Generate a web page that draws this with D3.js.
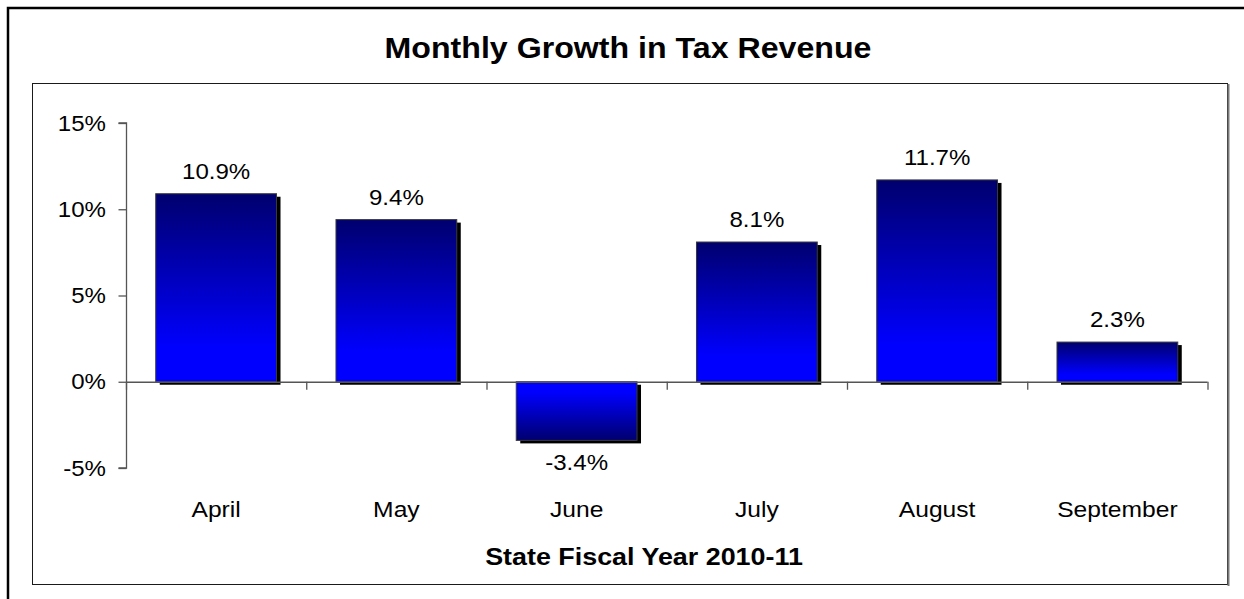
<!DOCTYPE html>
<html>
<head>
<meta charset="utf-8">
<script src="https://cdn.jsdelivr.net/npm/d3@7"></script>
<style>
  html, body { margin: 0; padding: 0; background: #fff; overflow: hidden; }
  svg { display: block; overflow: hidden; }
  text { font-family: "Liberation Sans", Arial, sans-serif; fill: #000; }
</style>
</head>
<body>
<svg id="chart" width="1244" height="599"></svg>
<script>
// Monthly growth in tax revenue, state fiscal year 2010-11 (percent)
const months = ["April", "May", "June", "July", "August", "September"];
const growth = [10.9, 9.4, -3.4, 8.1, 11.7, 2.3];
const yTicks = [-5, 0, 5, 10, 15];

const titleText = "Monthly Growth in Tax Revenue";
const xAxisTitle = "State Fiscal Year 2010-11";

const W = 1244, H = 599;
const svg = d3.select("#chart");
const STRETCH = 1.12; // horizontal stretch of the lettering

// White page background
svg.append("rect").attr("x", 0).attr("y", 0).attr("width", W).attr("height", H).attr("fill", "#fff");

// Text placed with a slight horizontal widening
function label(parent, x, y, txt, opts = {}) {
  const g = parent.append("g")
    .attr("transform", `translate(${x},${y}) scale(${STRETCH},1)`);
  const t = g.append("text")
    .attr("x", 0).attr("y", 0)
    .attr("text-anchor", opts.anchor || "middle")
    .attr("font-size", opts.size || 21.5)
    .attr("font-weight", opts.weight || "normal")
    .text(txt);
  if (opts.baseline) t.attr("dominant-baseline", opts.baseline);
  return g;
}

// Outer frame (top and left edges inside the view)
svg.append("path")
  .attr("d", `M8,${H + 5}V8H${W + 5}`)
  .attr("fill", "none").attr("stroke", "#000").attr("stroke-width", 2.5);

// Plot area box
svg.append("rect")
  .attr("x", 32.5).attr("y", 83.5)
  .attr("width", 1195).attr("height", 501)
  .attr("fill", "#fff").attr("stroke", "#1a1a1a").attr("stroke-width", 1);
svg.append("line")
  .attr("x1", 1228.5).attr("x2", 1228.5).attr("y1", 84).attr("y2", 586)
  .attr("stroke", "#7a7a7a").attr("stroke-width", 2);

// Title
label(svg, 628, 58, titleText, { size: 28.7, weight: "bold" });

// Scales
const plotLeft = 126, plotRight = 1207.5;
const y = d3.scaleLinear().domain([-5, 15]).range([468, 123]);
const xCat = d3.scaleBand().domain(months).range([plotLeft, plotRight]).padding(0);
const xBar = d3.scaleBand().domain(months).range([plotLeft, plotRight])
  .paddingInner(0.33).paddingOuter(0.165);

// Gradients: navy at the far end of the bar, bright blue at the zero line
const defs = svg.append("defs");
const gUp = defs.append("linearGradient").attr("id", "gradUp")
  .attr("x1", 0).attr("y1", 0).attr("x2", 0).attr("y2", 1);
gUp.append("stop").attr("offset", "0%").attr("stop-color", "#00006e");
gUp.append("stop").attr("offset", "82%").attr("stop-color", "#0000ff");
gUp.append("stop").attr("offset", "100%").attr("stop-color", "#0000ff");
const gDown = defs.append("linearGradient").attr("id", "gradDown")
  .attr("x1", 0).attr("y1", 0).attr("x2", 0).attr("y2", 1);
gDown.append("stop").attr("offset", "0%").attr("stop-color", "#0000ff");
gDown.append("stop").attr("offset", "18%").attr("stop-color", "#0000ff");
gDown.append("stop").attr("offset", "100%").attr("stop-color", "#00006e");

const data = months.map((m, i) => ({ month: m, value: growth[i] }));

// Bar shadows
svg.append("g").selectAll("rect").data(data).join("rect")
  .attr("x", d => xBar(d.month) + 4)
  .attr("y", d => Math.min(y(d.value), y(0)) + 3)
  .attr("width", xBar.bandwidth())
  .attr("height", d => Math.abs(y(d.value) - y(0)))
  .attr("fill", "#000");

// Y axis
const yAxis = d3.axisLeft(y).tickValues(yTicks).tickSize(8).tickFormat(() => "");
const gy = svg.append("g").attr("transform", `translate(${plotLeft + 0.5},0)`).call(yAxis);
gy.selectAll("path, line").attr("stroke", "#555").attr("stroke-width", 1.3);
gy.select(".domain").attr("d", `M-8,${y(15)}H0V${y(-5)}H-8`);
yTicks.forEach(v => {
  label(svg, 106, y(v), v + "%", { anchor: "end", baseline: "central" });
});

// Bars
svg.append("g").selectAll("rect").data(data).join("rect")
  .attr("x", d => xBar(d.month))
  .attr("y", d => Math.min(y(d.value), y(0)))
  .attr("width", xBar.bandwidth())
  .attr("height", d => Math.abs(y(d.value) - y(0)))
  .attr("fill", d => d.value >= 0 ? "url(#gradUp)" : "url(#gradDown)")
  .attr("stroke", "#3a3a3a").attr("stroke-width", 1);

// X axis at zero with ticks on category boundaries
const xBounds = months.map(m => xCat(m)).concat([plotRight]);
const gx = svg.append("g");
gx.append("line")
  .attr("x1", plotLeft).attr("x2", plotRight)
  .attr("y1", y(0) + 0.5).attr("y2", y(0) + 0.5)
  .attr("stroke", "#555").attr("stroke-width", 1.3);
gx.selectAll("line.tick").data(xBounds).join("line")
  .attr("class", "tick")
  .attr("x1", d => d + 0.5).attr("x2", d => d + 0.5)
  .attr("y1", y(0)).attr("y2", y(0) + 8)
  .attr("stroke", "#555").attr("stroke-width", 1.3);

// Category labels
months.forEach(m => {
  label(svg, xCat(m) + xCat.bandwidth() / 2, 517, m, { size: 22 });
});

// Value labels
data.forEach(d => {
  const cx = xBar(d.month) + xBar.bandwidth() / 2;
  const yy = d.value >= 0 ? y(d.value) - 15 : y(d.value) + 30;
  label(svg, cx, yy, d.value.toFixed(1) + "%");
});

// Axis title
label(svg, 644, 565, xAxisTitle, { size: 24, weight: "bold" });
</script>
</body>
</html>
